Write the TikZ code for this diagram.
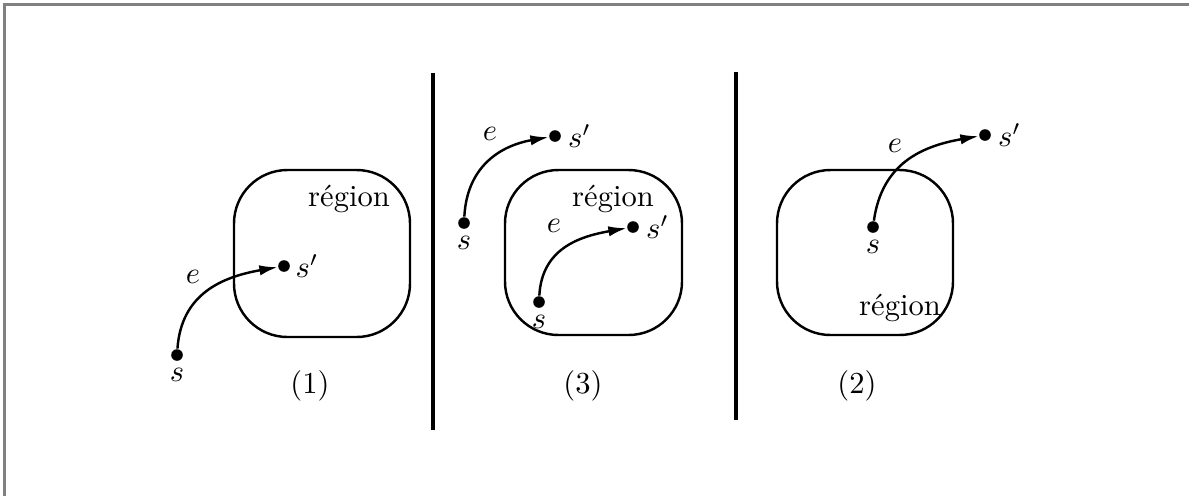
\documentclass[tikz,border=0pt]{standalone}
\usetikzlibrary{arrows.meta,positioning}

\tikzset{
  dot/.style={circle, fill=black, inner sep=0pt, minimum size=3.8pt},
  lbl/.style={inner sep=0pt},
  regionbox/.style={line width=0.8pt, rounded corners=17.5pt},
  trans/.style={line width=0.8pt, -{Latex[length=6pt,width=3.4pt]}},
  sep/.style={line width=1.2pt},
}

\begin{document}
\begin{tikzpicture}[x=0.0115cm, y=-0.0115cm]
    \useasboundingbox (0,0) rectangle (1189,496);
    % frame
    \draw[gray, line width=0.8pt] (4.5,496) -- (4.5,4.5) -- (1189,4.5);

    % separators
    \draw[sep] (433,73) -- (433,430);
    \draw[sep] (736,72) -- (736,420);

    % (1): s outside, s' inside
    \draw[regionbox] (234,170) rectangle (410,337);
    \node at (349,199) (r1) {région};
    \node[dot] (s1) at (177,355) {};
    \node[dot] (t1) at (284,266) {};
    \node[lbl, below=2pt of s1] (s1l) {$s$};
    \node[lbl, right=1.5pt of t1] (t1l) {$s'$};
    \node[lbl] (e1) at (193,277) {$e$};
    \draw[trans] (s1) to[out=86, in=190, looseness=1.1] (t1);
    \node at (310,386) (n1) {(1)};

    % (3): both outside, both inside
    \draw[regionbox] (505,170) rectangle (682,335);
    \node at (613,199) (r3) {région};
    \node[dot] (s3a) at (464,223) {};
    \node[dot] (t3a) at (555,136) {};
    \node[lbl, below=2pt of s3a] (s3al) {$s$};
    \node[lbl, right=2pt of t3a] (t3al) {$s'$};
    \node[lbl] (e3a) at (490,134) {$e$};
    \draw[trans] (s3a) to[out=87, in=190, looseness=1.1] (t3a);
    \node[dot] (s3b) at (539,302) {};
    \node[dot] (t3b) at (633,227) {};
    \node[lbl, below=2pt of s3b] (s3bl) {$s$};
    \node[lbl, right=2pt of t3b] (t3bl) {$s'$};
    \node[lbl] (e3b) at (554,226) {$e$};
    \draw[trans] (s3b) to[out=87, in=190, looseness=1.1] (t3b);
    \node at (583,386) (n3) {(3)};

    % (2): s inside, s' outside
    \draw[regionbox] (777,170) rectangle (953,335);
    \node at (900,308) (r2) {région};
    \node[dot] (s2) at (873,227) {};
    \node[dot] (t2) at (985,135) {};
    \node[lbl, below=2pt of s2] (s2l) {$s$};
    \node[lbl, right=2pt of t2] (t2l) {$s'$};
    \node[lbl] (e2) at (895,146) {$e$};
    \draw[trans] (s2) to[out=82, in=190, looseness=1.1] (t2);
    \node at (857,386) (n2) {(2)};
\end{tikzpicture}
\end{document}
